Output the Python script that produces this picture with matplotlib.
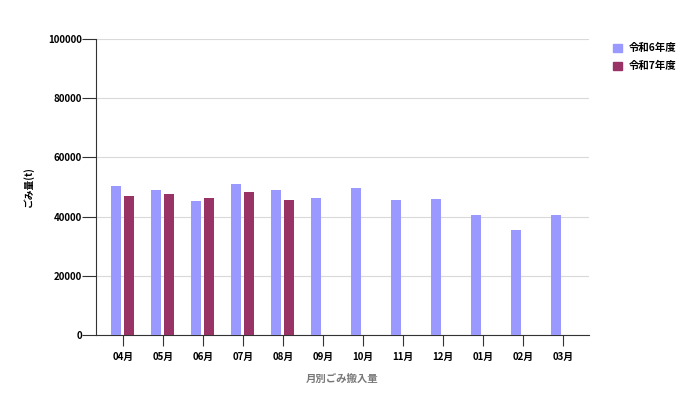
import numpy as np
import matplotlib
matplotlib.use("Agg")
import matplotlib.pyplot as plt
from matplotlib.patches import Patch

plt.rcParams['font.family'] = ['Noto Sans CJK JP', 'DejaVu Sans']

months = ["04月", "05月", "06月", "07月", "08月", "09月",
          "10月", "11月", "12月", "01月", "02月", "03月"]
r6 = [50300, 49000, 45300, 51100, 49000, 46400,
      49600, 45500, 45900, 40700, 35500, 40700]
r7 = [46800, 47700, 46200, 48300, 45700]
names = ["令和6年度", "令和7年度"]
colors = ["#9999ff", "#993366"]

fig = plt.figure(figsize=(7, 3.97), dpi=100)
ax = fig.add_axes([0.137, 0.156, 0.704, 0.746])

x = np.arange(len(months))
w = 0.25
ax.bar(x - 0.16, r6, w, color=colors[0], zorder=3)
ax.bar(x[:len(r7)] + 0.16, r7, w, color=colors[1], zorder=3)

ax.set_xlim(-0.675, 11.65)
ax.set_ylim(0, 100000)
ax.set_yticks(np.arange(0, 100001, 20000))
ax.set_xticks(x)
ax.set_xticklabels(months)
ax.grid(axis='y', color='#d9d9d9', linewidth=0.8, zorder=0)

for s in ['top', 'right']:
    ax.spines[s].set_visible(False)
ax.spines['left'].set_color('#333333')
ax.spines['bottom'].set_color('#333333')
ax.tick_params(axis='y', length=10, width=0.8, color='#333333', labelsize=7, pad=0)
ax.tick_params(axis='x', length=8, width=0.8, color='#333333', labelsize=7, pad=4)
for lab in ax.get_xticklabels() + ax.get_yticklabels():
    lab.set_fontweight('bold')

ax.set_ylabel("ごみ量(t)", fontsize=7, fontweight='bold', labelpad=10)
ax.set_xlabel("月別ごみ搬入量", fontsize=7.5, color='#777777', fontweight='bold', labelpad=9)

handles = [Patch(color=c) for c in colors]
fig.legend(handles, names, loc='upper left', bbox_to_anchor=(0.862, 0.915),
           frameon=False, handlelength=0.85, handleheight=0.85,
           labelspacing=0.75, handletextpad=0.7,
           prop={'weight': 'bold', 'size': 7.5})

fig.savefig("out.png", dpi=100)
